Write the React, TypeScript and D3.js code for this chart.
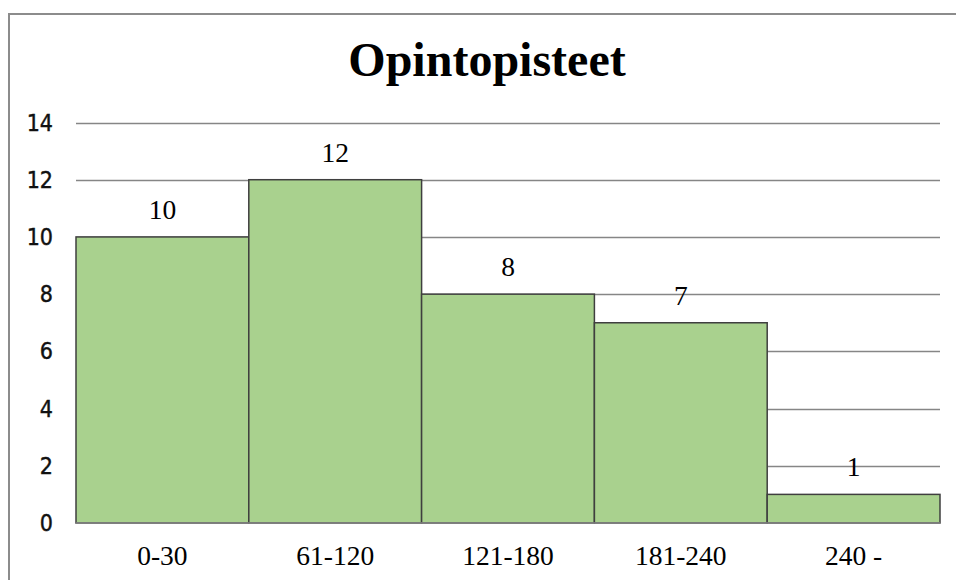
import React from 'react';
import * as d3 from 'd3';

const categories = ['0-30', '61-120', '121-180', '181-240', '240 -'];
const counts = [10, 12, 8, 7, 1];
const yTicks = [0, 2, 4, 6, 8, 10, 12, 14];
const title = 'Opintopisteet';

const W = 956;
const H = 580;
const plot = { left: 76, right: 940, top: 122.5, bottom: 523 };

export default function App() {
  const x = d3.scaleBand<string>()
    .domain(categories)
    .range([plot.left, plot.right])
    .paddingInner(0)
    .paddingOuter(0);

  const y = d3.scaleLinear()
    .domain([0, 14])
    .range([plot.bottom, plot.top]);

  const serif = '"Liberation Serif", "Times New Roman", serif';
  const sans = '"DejaVu Sans Condensed", "Liberation Sans", Tahoma, sans-serif';

  return (
    <div style={{ position: 'fixed', left: 0, top: 0 }}>
      <svg width={W} height={H} style={{ display: 'block', background: '#fff' }}>
        {/* chart frame, runs off the right and bottom edges */}
        <rect x={9} y={14} width={W + 10} height={H + 10} fill="#fff" stroke="#8c8c8c" strokeWidth={2} />

        <text x={487} y={76} textAnchor="middle" fontFamily={serif} fontWeight="bold" fontSize={48} fill="#000">
          {title}
        </text>

        {yTicks.map(t => (
          <g key={t}>
            {t > 0 && (
              <line x1={plot.left} x2={plot.right} y1={Math.round(y(t)) + 0.5} y2={Math.round(y(t)) + 0.5}
                stroke="#868686" strokeWidth={1.3} />
            )}
            <text x={53} y={y(t)} dy="0.35em" textAnchor="end" fontFamily={sans} fontSize={23}
              fill="#111" stroke="#111" strokeWidth={0.4}>
              {t}
            </text>
          </g>
        ))}

        {categories.map((c, i) => (
          <g key={c}>
            <rect x={x(c)!} y={y(counts[i])} width={x.bandwidth()} height={y(0) - y(counts[i])}
              fill="#a9d18e" stroke="#3f3f3f" strokeWidth={1.5} />
            <text x={x(c)! + x.bandwidth() / 2} y={y(counts[i]) - 18} textAnchor="middle"
              fontFamily={serif} fontSize={27.5} fill="#000">
              {counts[i]}
            </text>
            <text x={x(c)! + x.bandwidth() / 2} y={565} textAnchor="middle"
              fontFamily={serif} fontSize={27.5} fill="#000">
              {c}
            </text>
          </g>
        ))}

        <line x1={plot.left} x2={plot.right} y1={plot.bottom} y2={plot.bottom} stroke="#868686" strokeWidth={1.5} />
      </svg>
    </div>
  );
}
